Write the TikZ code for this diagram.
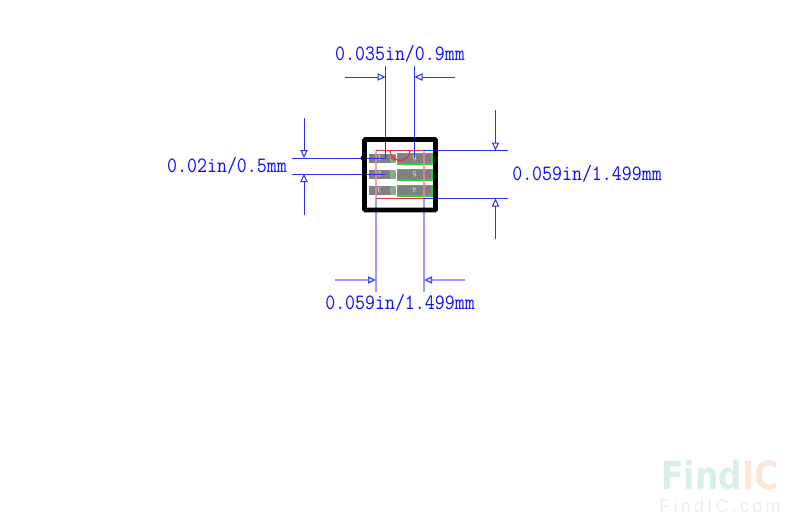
\documentclass[tikz,border=0pt]{standalone}
\usepackage{xcolor}
\usepackage{fontspec}
\usetikzlibrary{arrows.meta}
\newfontfamily\wmfont{DejaVu Sans}
\newfontfamily\wmsmallfont[LetterSpace=18]{Liberation Sans}
\definecolor{dimblue}{HTML}{3030F4}
\definecolor{dimtextblue}{HTML}{0C0CFF}
\definecolor{dimlight}{HTML}{9A9AFF}
\definecolor{padgrey}{HTML}{808080}
\definecolor{padgreen}{HTML}{30D030}
\definecolor{padsquare}{HTML}{8CAA8C}
\definecolor{outlinered}{HTML}{E0304C}
\definecolor{outlinepink}{HTML}{E48C9C}
\definecolor{markcyan}{HTML}{D8EFEB}
\definecolor{markorange}{HTML}{FBE6D8}
\definecolor{markgrey}{HTML}{EDEDED}
\tikzset{
  dimtext/.style={text=dimtextblue,font=\ttfamily\fontsize{16.4pt}{16.4pt}\selectfont,inner sep=0pt,xscale=0.885},
  padleft/.style={fill=padgrey,text=white!75!padgrey,font=\sffamily\fontsize{6pt}{6pt}\selectfont,
    minimum width=15.75pt,minimum height=6.5pt,inner sep=0pt,rotate=180},
  padright/.style={fill=padgrey,text=white!75!padgrey,font=\sffamily\fontsize{6pt}{6pt}\selectfont,
    minimum width=25.5pt,minimum height=7.5pt,inner sep=0pt,rotate=180},
  padedge/.style={draw=padgreen,line width=1.1pt},
  padsq/.style={fill=padsquare,minimum width=4.5pt,minimum height=6.5pt,inner sep=0pt},
  arrowopen/.tip={Triangle[open,length=6pt,width=5.5pt]}
}
\begin{document}
\begin{tikzpicture}[x=0.75pt,y=-0.75pt]
      \useasboundingbox (0,0) rectangle (800,532);
      % pads
      \node[padleft] (pa) at (379.5,158.5) {1};
      \node[padleft] (pb) at (379.5,174.5) {2};
      \node[padleft] (pc) at (379.5,190.5) {3};
      \node[padsq] (qa) at (393,158.5) {};
      \node[padsq] (qb) at (393,174.5) {};
      \node[padsq] (qc) at (393,190.5) {};
      \node[padright] (pf) at (414.5,158.5) {6};
      \node[padright] (pe) at (414.5,174.5) {5};
      \node[padright] (pd) at (414.5,190.5) {4};
      \draw[padedge] (pf.north west) rectangle (pf.south east);
      \draw[padedge] (pe.north west) rectangle (pe.south east);
      \draw[padedge] (pd.north west) rectangle (pd.south east);
      % outline
      \coordinate (ra) at (376,150.5);
      \coordinate (rb) at (424,150.5);
      \coordinate (rc) at (424,198.5);
      \coordinate (rd) at (376,198.5);
      \coordinate (rs) at (390,150.5);
      \coordinate (rm) at (393.5,158);
      \begin{scope}[every edge/.style={draw=outlinepink,line width=1.3pt,opacity=0.8}]
      \path (ra) edge (rd);
      \path (rb) edge (rc);
      \end{scope}
      \begin{scope}[every edge/.style={draw=outlinered,line width=0.75pt}]
      \path (ra) edge (rb);
      \path (rd) edge (rc);
      \end{scope}
      \draw[outlinered,line width=0.9pt] (rs) arc[start angle=180,end angle=0,radius=10];
      \node[draw=outlinered,line width=0.5pt,minimum size=2.6pt,inner sep=0pt,rotate=45] (pin) at (rm) {};
      % dimension lines, thin
      \coordinate (ta) at (385.5,66);
      \coordinate (tb) at (385.5,158);
      \coordinate (tc) at (414.5,66);
      \coordinate (td) at (414.5,158);
      \coordinate (la) at (292,158);
      \coordinate (lb) at (292,174);
      \coordinate (lc) at (386,174);
      \coordinate (ga) at (424,150.5);
      \coordinate (gb) at (508,150.5);
      \coordinate (gc) at (424,198.5);
      \coordinate (gd) at (508,198.5);
      \begin{scope}[every edge/.style={draw=dimblue,line width=0.75pt}]
      \path (ta) edge (tb);
      \path (tc) edge (td);
      \path (la) edge (tb);
      \path (lb) edge (lc);
      \path (ga) edge (gb);
      \path (gc) edge (gd);
      \end{scope}
      % arrows
      \coordinate (aa) at (345,77);
      \coordinate (ab) at (385.5,77);
      \coordinate (ac) at (455,77);
      \coordinate (ad) at (414.5,77);
      \coordinate (ae) at (304,118);
      \coordinate (af) at (304,158);
      \coordinate (ag) at (304,215);
      \coordinate (ah) at (304,174);
      \coordinate (ai) at (495.5,110);
      \coordinate (aj) at (495.5,150.5);
      \coordinate (ak) at (495.5,239);
      \coordinate (al) at (495.5,198.5);
      \begin{scope}[every edge/.style={draw=dimblue,line width=0.75pt,-arrowopen}]
      \path (aa) edge (ab);
      \path (ac) edge (ad);
      \path (ae) edge (af);
      \path (ag) edge (ah);
      \path (ai) edge (aj);
      \path (ak) edge (al);
      \end{scope}
      % bottom dimension, light
      \coordinate (ba) at (376,198.5);
      \coordinate (bb) at (376,291.5);
      \coordinate (bc) at (424,198.5);
      \coordinate (bd) at (424,291.5);
      \coordinate (be) at (335,280);
      \coordinate (bf) at (376,280);
      \coordinate (bg) at (465,280);
      \coordinate (bh) at (424,280);
      \begin{scope}[every edge/.style={draw=dimlight,line width=1.3pt}]
      \path (ba) edge (bb);
      \path (bc) edge (bd);
      \end{scope}
      \begin{scope}[every edge/.style={draw=dimlight,line width=1.1pt,-{Triangle[open,length=6pt,width=5.5pt,color=dimblue!70!dimlight]}}]
      \path (be) edge (bf);
      \path (bg) edge (bh);
      \end{scope}
      % body
      \draw[black,line width=3.5pt,rounded corners=0.6pt] (364.5,139.5) rectangle (435.5,210);
      \node[circle,fill=black,minimum size=3.6pt,inner sep=0pt] (dot) at (363,158) {};
      % labels
      \node[dimtext] (lt) at (400,54) {0.035in/0.9mm};
      \node[dimtext] (ll) at (227,166) {0.02in/0.5mm};
      \node[dimtext] (lr) at (587,174) {0.059in/1.499mm};
      \node[dimtext] (lu) at (400,303) {0.059in/1.499mm};
      % mark
      \node[inner sep=0pt,xscale=0.85,font=\wmfont\bfseries\fontsize{29pt}{29pt}\selectfont] (wm) at (720,475) {\textcolor{markcyan}{Find}\textcolor{markorange}{IC}};
      \node[inner sep=0pt,text=markgrey,font=\wmsmallfont\fontsize{13.5pt}{13.5pt}\selectfont] (wn) at (720,506) {FindIC.com};
      \end{tikzpicture}
\end{document}
